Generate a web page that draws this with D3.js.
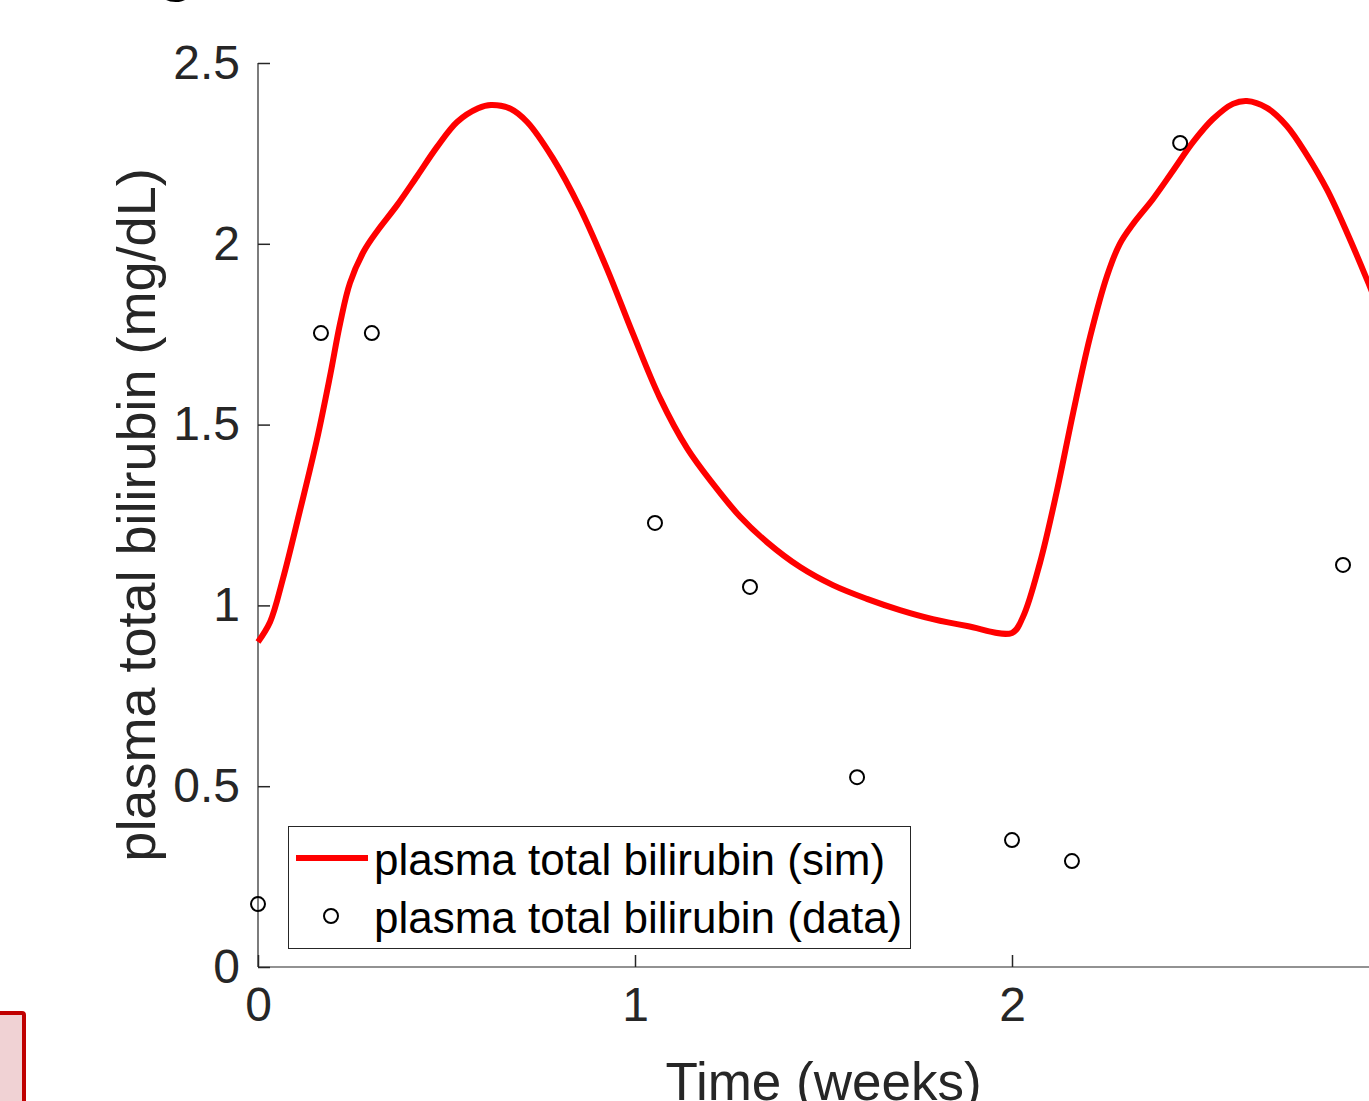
<!DOCTYPE html>
<html>
<head>
<meta charset="utf-8">
<script src="https://cdn.jsdelivr.net/npm/d3@7"></script>
<style>
  body { margin: 0; background: #fff; }
  svg { display: block; font-family: "Liberation Sans", Arial, sans-serif; }
</style>
</head>
<body>
<svg width="1369" height="1101"></svg>
<script>
// simulated curve (weeks, mg/dL)
const simT = [0, 0.032, 0.066, 0.111, 0.156, 0.191, 0.218, 0.244, 0.281, 0.316, 0.369, 0.422, 0.475, 0.528, 0.584, 0.618, 0.671, 0.714, 0.782, 0.854, 0.926, 0.995, 1.066, 1.138, 1.207, 1.279, 1.350, 1.438, 1.525, 1.615, 1.703, 1.790, 1.881, 2.0, 2.029, 2.074, 2.119, 2.162, 2.207, 2.252, 2.286, 2.321, 2.374, 2.427, 2.480, 2.533, 2.586, 2.623, 2.676, 2.729, 2.782, 2.836, 2.889, 2.942, 3.0];
const simV = [0.899, 0.954, 1.073, 1.261, 1.457, 1.634, 1.781, 1.892, 1.980, 2.035, 2.107, 2.187, 2.268, 2.337, 2.375, 2.384, 2.373, 2.337, 2.237, 2.099, 1.930, 1.750, 1.574, 1.435, 1.336, 1.245, 1.175, 1.106, 1.056, 1.018, 0.987, 0.962, 0.943, 0.924, 0.968, 1.117, 1.316, 1.532, 1.742, 1.911, 2.000, 2.055, 2.124, 2.202, 2.281, 2.345, 2.387, 2.395, 2.376, 2.326, 2.246, 2.149, 2.030, 1.900, 1.750];

// measured data
const dataT = [0, 0.167, 0.302, 1.053, 1.305, 1.589, 2.0, 2.159, 2.446, 2.878];
const dataV = [0.174, 1.753, 1.753, 1.228, 1.051, 0.525, 0.351, 0.293, 2.279, 1.112];

const xTicks = [0, 1, 2];
const yTicks = [0, 0.5, 1, 1.5, 2, 2.5];
const legendLabels = ["plasma total bilirubin (sim)", "plasma total bilirubin (data)"];

const svg = d3.select("svg");
const axisColor = "#262626";

const x = d3.scaleLinear().domain([0, 3]).range([258, 1389]);
const y = d3.scaleLinear().domain([0, 2.5]).range([967, 63]);

// stray bits of neighbouring panels
svg.append("text").attr("x", 158).attr("y", -10)
  .attr("font-size", 60).attr("font-weight", "bold").attr("fill", "#000").text("g");
svg.append("rect").attr("x", -10).attr("y", 1013).attr("width", 34).attr("height", 200)
  .attr("rx", 2).attr("fill", "#f0d2d4").attr("stroke", "#c00000").attr("stroke-width", 4);

const plot = svg.append("g");

// axes
const xAxis = plot.append("g").attr("transform", `translate(0,${y(0)})`)
  .call(d3.axisBottom(x).tickValues(xTicks).tickSize(-12).tickPadding(20).tickFormat(d3.format("d")));
const yAxis = plot.append("g").attr("transform", `translate(${x(0)},0)`)
  .call(d3.axisLeft(y).tickValues(yTicks).tickSize(-12).tickPadding(18).tickFormat(d => String(d)));

[xAxis, yAxis].forEach(a => {
  a.select(".domain").attr("stroke", axisColor).attr("stroke-width", 1.2);
  a.selectAll(".tick line").attr("stroke", axisColor).attr("stroke-width", 1.5);
  a.selectAll(".tick text").attr("fill", axisColor).attr("font-size", 48)
    .attr("font-family", "Liberation Sans, Arial, sans-serif");
});
yAxis.select(".domain").attr("d", `M0,${y(2.5)}V${y(0)}`);
xAxis.select(".domain").attr("d", `M${x(0)},0H${x(3)}`);
xAxis.selectAll(".tick text").attr("dy", "0.71em");

// axis labels
svg.append("text").attr("x", x(1.5)).attr("y", 1100).attr("text-anchor", "middle")
  .attr("font-size", 53).attr("fill", axisColor).text("Time (weeks)");
svg.append("text").attr("transform", `translate(155,${y(1.25)}) rotate(-90)`)
  .attr("text-anchor", "middle").attr("font-size", 54).attr("fill", axisColor)
  .text("plasma total bilirubin (mg/dL)");

// sim line
const line = d3.line().x((d, i) => x(simT[i])).y(d => y(d)).curve(d3.curveCatmullRom.alpha(0.5));
plot.append("path").datum(simV).attr("d", line)
  .attr("fill", "none").attr("stroke", "#ff0000").attr("stroke-width", 6)
  .attr("stroke-linejoin", "round");

// data points
plot.selectAll("circle.pt").data(dataV).join("circle").attr("class", "pt")
  .attr("cx", (d, i) => x(dataT[i])).attr("cy", d => y(d)).attr("r", 7)
  .attr("fill", "none").attr("stroke", "#000").attr("stroke-width", 2);

// legend
const lg = svg.append("g");
lg.append("rect").attr("x", 288.5).attr("y", 826.5).attr("width", 622).attr("height", 122)
  .attr("fill", "#fff").attr("stroke", axisColor).attr("stroke-width", 1);
lg.append("line").attr("x1", 296).attr("x2", 368).attr("y1", 858).attr("y2", 858)
  .attr("stroke", "#ff0000").attr("stroke-width", 6);
lg.append("circle").attr("cx", 331).attr("cy", 916).attr("r", 7)
  .attr("fill", "none").attr("stroke", "#000").attr("stroke-width", 2);
lg.selectAll("text").data(legendLabels).join("text")
  .attr("x", 374).attr("y", (d, i) => 875 + i * 58)
  .attr("font-size", 44).attr("fill", "#000").text(d => d);
</script>
</body>
</html>
